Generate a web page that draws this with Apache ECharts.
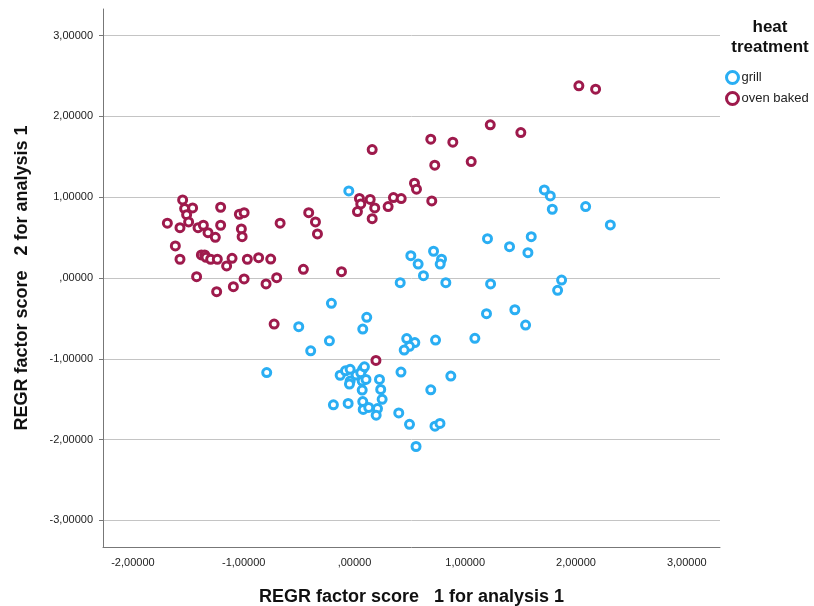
<!DOCTYPE html>
<html>
<head>
<meta charset="utf-8">
<script src="https://cdn.jsdelivr.net/npm/echarts@6/dist/echarts.min.js"></script>
<style>
html,body{margin:0;padding:0;background:#fff;}
#chart{width:814px;height:606px;}
</style>
</head>
<body>
<div id="chart"></div>
<script>
// Tick values
const xTicks = [-2, -1, 0, 1, 2, 3];
const yTicks = [-3, -2, -1, 0, 1, 2, 3];

// Series: grill (REGR factor score 1, REGR factor score 2)
const grillX = [-0.051, 1.714, 1.768, 1.786, 2.087, 2.31, 1.201, 1.596, 1.4, 1.566,
  0.509, 0.714, 0.575, 0.786, 0.774, 0.623, 0.413, 0.825, 1.229, 1.87,
  1.834, 1.192, 1.448, 1.545, 0.472, 0.545, 0.497, 0.449, 0.732, 1.087,
  0.42, 0.87, -0.208, -0.503, -0.226, -0.395, 0.111, 0.075, -0.792, -0.129,
  -0.081, -0.039, -0.039, -0.045, 0.015, 0.075, 0.057, 0.07, 0.104, 0.226,
  0.07, 0.237, 0.25, 0.689, -0.19, -0.057, 0.075, 0.079, 0.129, 0.208,
  0.196, 0.4, 0.497, 0.727, 0.772, 0.556, 0.09];
const grillY = [1.078, 1.09, 1.016, 0.851, 0.884, 0.657, 0.487, 0.512, 0.388, 0.314,
  0.276, 0.331, 0.173, 0.232, 0.173, 0.029, -0.058, -0.058, -0.074, -0.025,
  -0.152, -0.442, -0.393, -0.582, -0.75, -0.8, -0.846, -0.892, -0.768, -0.747,
  -1.165, -1.214, -0.314, -0.603, -0.777, -0.901, -0.487, -0.632, -1.171, -1.204,
  -1.149, -1.131, -1.276, -1.313, -1.202, -1.128, -1.173, -1.276, -1.255, -1.255,
  -1.388, -1.379, -1.502, -1.384, -1.57, -1.553, -1.53, -1.627, -1.602, -1.617,
  -1.698, -1.67, -1.812, -1.834, -1.8, -2.086, -1.1];

// Series: oven baked
const ovenX = [0.16, 0.045, 0.142, 0.352, 0.422, 0.542, 0.56, -1.551, 2.026, 2.177,
  1.226, 1.502, 0.689, 0.888, 0.725, 1.054, 0.698, -1.533, -1.461, -1.515,
  -1.689, -1.575, -1.497, -1.412, -1.364, -1.322, -1.256, -1.208, -1.208, -1.039,
  -0.996, -1.021, -1.014, -0.671, -0.413, -0.352, -0.334, 0.057, 0.183, 0.027,
  0.16, 0.304, -1.617, -1.575, -1.382, -1.352, -1.34, -1.298, -1.238, -1.105,
  -1.154, -0.967, -0.865, -0.756, -0.461, -0.117, -1.425, -0.996, -0.702, -0.798,
  -1.093, -1.244, -0.725, 0.194];
const ovenY = [1.59, 0.985, 0.973, 0.995, 0.983, 1.173, 1.099, 0.967, 2.379, 2.338,
  1.896, 1.8, 1.719, 1.682, 1.397, 1.441, 0.954, 0.859, 0.867, 0.784,
  0.678, 0.623, 0.694, 0.623, 0.653, 0.561, 0.504, 0.876, 0.653, 0.789,
  0.809, 0.607, 0.512, 0.678, 0.809, 0.694, 0.545, 0.917, 0.867, 0.822,
  0.735, 0.884, 0.397, 0.232, 0.285, 0.285, 0.257, 0.232, 0.232, 0.244,
  0.149, 0.232, 0.252, 0.235, 0.108, 0.078, 0.016, -0.012, 0.004, -0.074,
  -0.108, -0.17, -0.57, -1.02];

const seriesNames = ['grill', 'oven baked'];
const colors = ['#2AAEF3', '#9E1A4C'];

function zip(a, b) { return a.map((v, i) => [v, b[i]]); }
function fmt(v) {
  if (Math.abs(v) < 1e-9) return ',00000';
  return v.toFixed(5).replace('.', ',');
}

const chart = echarts.init(document.getElementById('chart'), null, {renderer: 'canvas'});
const font = 'Liberation Sans, Arial, sans-serif';

chart.setOption({
  animation: false,
  backgroundColor: '#ffffff',
  textStyle: {fontFamily: font},
  title: {
    text: 'heat\ntreatment',
    left: 770,
    top: 17,
    padding: 0,
    textAlign: 'center',
    textStyle: {fontFamily: font, fontSize: 17, fontWeight: 'bold', color: '#111', lineHeight: 20}
  },
  legend: {
    orient: 'vertical',
    left: 725,
    top: 70,
    padding: 0,
    itemWidth: 12,
    itemHeight: 12,
    itemGap: 6,
    icon: 'circle',
    itemStyle: {color: '#ffffff', borderWidth: 3},
    textStyle: {fontFamily: font, fontSize: 13, color: '#222', padding: [0, 0, 0, -2]},
    data: seriesNames
  },
  grid: {left: 103, right: 94, top: 9, bottom: 59, containLabel: false, outerBoundsMode: 'none'},
  xAxis: {
    type: 'value',
    min: -2.27,
    max: 3.30,
    name: 'REGR factor score   1 for analysis 1',
    nameLocation: 'middle',
    nameGap: 41,
    nameTextStyle: {fontFamily: font, fontSize: 18, fontWeight: 'bold', color: '#111'},
    axisLine: {show: true, onZero: false, lineStyle: {color: '#777', width: 1}},
    axisTick: {show: false, customValues: xTicks},
    axisLabel: {customValues: xTicks, formatter: fmt, fontSize: 11, color: '#222', margin: 10},
    splitLine: {show: false}
  },
  yAxis: {
    type: 'value',
    min: -3.33,
    max: 3.33,
    name: 'REGR factor score   2 for analysis 1',
    nameLocation: 'middle',
    nameGap: 72,
    nameTextStyle: {fontFamily: font, fontSize: 18, fontWeight: 'bold', color: '#111'},
    axisLine: {show: true, onZero: false, lineStyle: {color: '#777', width: 1}},
    axisTick: {show: true, length: 4, customValues: yTicks, lineStyle: {color: '#777'}},
    axisLabel: {customValues: yTicks, formatter: fmt, fontSize: 11, color: '#222', margin: 10},
    splitLine: {show: true, lineStyle: {color: '#c4c4c4', width: 1}}
  },
  series: [
    {
      name: seriesNames[0],
      type: 'scatter',
      symbol: 'circle',
      symbolSize: 8,
      itemStyle: {color: '#ffffff', borderColor: colors[0], borderWidth: 3, opacity: 1},
      data: zip(grillX, grillY)
    },
    {
      name: seriesNames[1],
      type: 'scatter',
      symbol: 'circle',
      symbolSize: 8,
      itemStyle: {color: '#ffffff', borderColor: colors[1], borderWidth: 3, opacity: 1},
      data: zip(ovenX, ovenY)
    }
  ]
});
</script>
</body>
</html>
